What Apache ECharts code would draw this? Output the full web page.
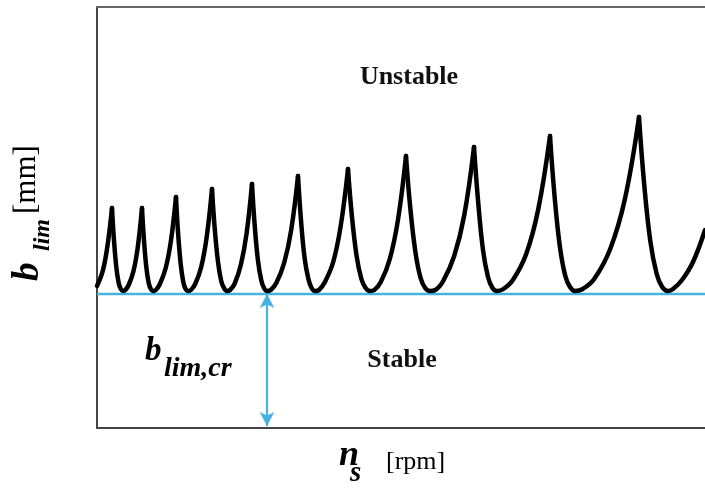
<!DOCTYPE html>
<html>
<head>
<meta charset="utf-8">
<script src="https://cdn.jsdelivr.net/npm/echarts@6/dist/echarts.min.js"></script>
<style>
  html, body { margin: 0; padding: 0; background: #fff; }
  #chart { width: 705px; height: 492px; }
</style>
</head>
<body>
<div id="chart"></div>
<script>
// Stability lobe diagram: spindle speed n_s [rpm] vs. limiting depth of cut b_lim [mm].
// Each lobe runs from one cusp (intersection with the previous lobe) to the next.
const lobeEntry = [[0, 1.42], [60, 1.58], [110, 1.86], [150, 2.20]];
const lobe1  = [[150, 2.20], [169, 1.89], [193, 1.61], [217, 1.45], [238, 1.39], [260, 1.37], [283, 1.38], [317, 1.43], [365, 1.57], [408, 1.81], [450, 2.20]];
const lobe2  = [[450, 2.20], [469, 1.89], [493, 1.61], [517, 1.45], [538, 1.39], [560, 1.37], [588, 1.38], [629, 1.44], [687, 1.60], [739, 1.87], [790, 2.31]];
const lobe3  = [[790, 2.31], [810, 1.96], [837, 1.64], [863, 1.46], [886, 1.39], [910, 1.37], [939, 1.38], [982, 1.44], [1042, 1.61], [1097, 1.91], [1150, 2.39]];
const lobe4  = [[1150, 2.39], [1176, 2.01], [1209, 1.67], [1242, 1.47], [1270, 1.40], [1300, 1.37], [1330, 1.38], [1375, 1.44], [1438, 1.63], [1495, 1.94], [1550, 2.44]];
const lobe5  = [[1550, 2.44], [1576, 2.04], [1609, 1.68], [1642, 1.48], [1670, 1.40], [1700, 1.37], [1737, 1.38], [1793, 1.45], [1871, 1.65], [1942, 1.98], [2010, 2.52]];
const lobe6  = [[2010, 2.52], [2039, 2.09], [2076, 1.70], [2114, 1.49], [2146, 1.40], [2180, 1.37], [2220, 1.38], [2279, 1.46], [2362, 1.66], [2437, 2.02], [2510, 2.59]];
const lobe7  = [[2510, 2.59], [2547, 2.14], [2596, 1.72], [2644, 1.49], [2686, 1.40], [2730, 1.37], [2773, 1.38], [2838, 1.46], [2928, 1.69], [3011, 2.09], [3090, 2.72]];
const lobe8  = [[3090, 2.72], [3131, 2.22], [3184, 1.76], [3236, 1.50], [3282, 1.40], [3330, 1.37], [3383, 1.38], [3462, 1.47], [3572, 1.72], [3673, 2.13], [3770, 2.81]];
const lobe9  = [[3770, 2.81], [3810, 2.28], [3860, 1.78], [3910, 1.51], [3955, 1.40], [4000, 1.37], [4064, 1.39], [4159, 1.48], [4292, 1.74], [4413, 2.19], [4530, 2.92]];
const lobe10 = [[4530, 2.92], [4573, 2.35], [4628, 1.82], [4683, 1.52], [4730, 1.41], [4780, 1.37], [4857, 1.39], [4972, 1.49], [5132, 1.79], [5279, 2.29], [5420, 3.11]];
const lobe11 = [[5420, 3.11], [5469, 2.47], [5533, 1.87], [5597, 1.54], [5652, 1.41], [5710, 1.37], [5760, 1.39], [5850, 1.48], [5960, 1.66], [6080, 1.98]];

const lobes = [lobeEntry, lobe1, lobe2, lobe3, lobe4, lobe5, lobe6, lobe7, lobe8, lobe9, lobe10, lobe11];

// Absolute stability limit and the speed where it is annotated
const bLimCr = 1.34;
const arrowSpeed = 1700;
const speedRange = [0, 6080];
const depthRange = [0, 4.21];

const serif = '"Liberation Serif", "DejaVu Serif", serif';
const blue = '#45b2e2';

const lobeSeries = lobes.map(pts => ({
  type: 'line',
  data: pts,
  smooth: 0.4,
  symbol: 'none',
  silent: true,
  lineStyle: { color: '#000', width: 4.5, cap: 'round', join: 'round' },
  z: 3
}));

const criticalSeries = {
  type: 'line',
  data: [[speedRange[0], bLimCr], [speedRange[1], bLimCr]],
  symbol: 'none',
  silent: true,
  lineStyle: { color: blue, width: 2.5 },
  z: 2,
  markLine: {
    silent: true,
    symbol: ['arrow', 'arrow'],
    symbolSize: [11, 14],
    label: { show: false },
    lineStyle: { color: blue, width: 2.2, type: 'solid' },
    data: [[{ coord: [arrowSpeed, bLimCr] }, { coord: [arrowSpeed, 0.02] }]]
  }
};

const axisLine = { show: true, lineStyle: { color: '#444', width: 2 } };

const option = {
  animation: false,
  backgroundColor: '#fff',
  grid: { left: 97, right: 0, top: 7, bottom: 64 },
  xAxis: [
    {
      type: 'value', min: speedRange[0], max: speedRange[1],
      axisLine: axisLine, axisTick: { show: false }, axisLabel: { show: false }, splitLine: { show: false }
    },
    {
      type: 'value', position: 'top', min: speedRange[0], max: speedRange[1],
      axisLine: { show: true, lineStyle: { color: '#666', width: 2 } },
      axisTick: { show: false }, axisLabel: { show: false }, splitLine: { show: false }
    }
  ],
  yAxis: {
    type: 'value', min: depthRange[0], max: depthRange[1],
    axisLine: axisLine, axisTick: { show: false }, axisLabel: { show: false }, splitLine: { show: false }
  },
  series: [criticalSeries].concat(lobeSeries),
  graphic: [
    { type: 'text', x: 409, y: 77, style: { text: 'Unstable', font: 'bold 26px ' + serif, fill: '#111', textAlign: 'center', textVerticalAlign: 'middle' } },
    { type: 'text', x: 402, y: 360, style: { text: 'Stable', font: 'bold 26px ' + serif, fill: '#111', textAlign: 'center', textVerticalAlign: 'middle' } },
    // b_lim,cr annotation
    { type: 'text', x: 145, y: 351, style: { text: 'b', font: 'italic bold 33px ' + serif, fill: '#000', textAlign: 'left', textVerticalAlign: 'middle' } },
    { type: 'text', x: 164, y: 369, style: { text: 'lim,cr', font: 'italic bold 28px ' + serif, fill: '#000', textAlign: 'left', textVerticalAlign: 'middle' } },
    // x-axis title
    { type: 'text', x: 339, y: 456, style: { text: 'n', font: 'italic bold 36px ' + serif, fill: '#000', textAlign: 'left', textVerticalAlign: 'middle' } },
    { type: 'text', x: 350, y: 474, style: { text: 's', font: 'italic bold 29px ' + serif, fill: '#000', textAlign: 'left', textVerticalAlign: 'middle' } },
    { type: 'text', x: 386, y: 462, style: { text: '[rpm]', font: '26px ' + serif, fill: '#000', textAlign: 'left', textVerticalAlign: 'middle' } },
    // y-axis title (rotated, reading upward)
    { type: 'text', x: 28, y: 281, rotation: Math.PI / 2, style: { text: 'b', font: 'italic bold 37px ' + serif, fill: '#000', textAlign: 'left', textVerticalAlign: 'middle' } },
    { type: 'text', x: 43, y: 251, rotation: Math.PI / 2, style: { text: 'lim', font: 'italic bold 24px ' + serif, fill: '#000', textAlign: 'left', textVerticalAlign: 'middle' } },
    { type: 'text', x: 27, y: 214, rotation: Math.PI / 2, style: { text: '[mm]', font: '31px ' + serif, fill: '#000', textAlign: 'left', textVerticalAlign: 'middle' } }
  ]
};

const chart = echarts.init(document.getElementById('chart'), null, { renderer: 'canvas' });
chart.setOption(option);
</script>
</body>
</html>
